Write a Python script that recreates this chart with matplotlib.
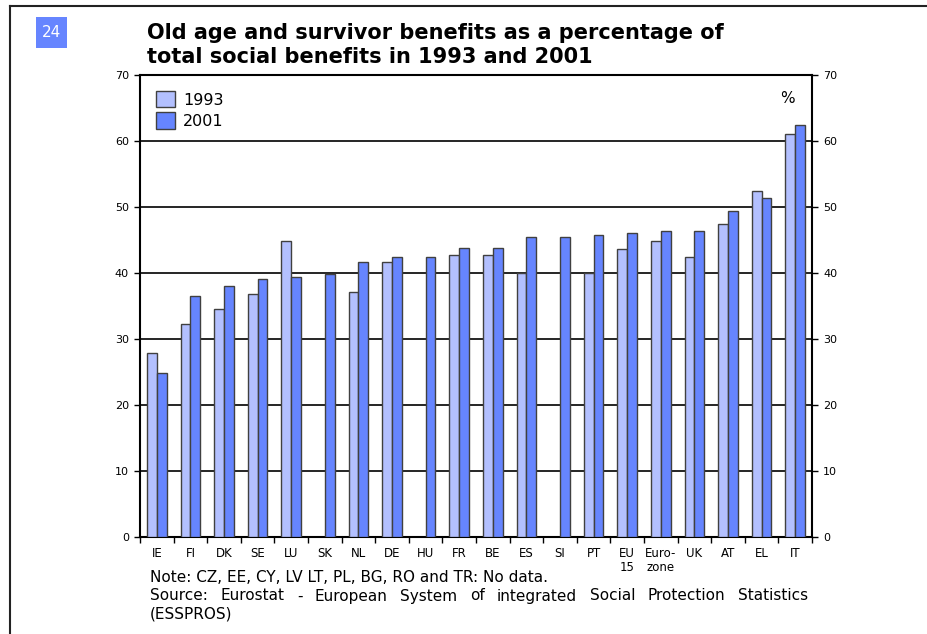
import matplotlib
matplotlib.use("Agg")
import matplotlib.pyplot as plt
import numpy as np
from matplotlib.patches import Rectangle
from matplotlib.lines import Line2D

countries = ["IE", "FI", "DK", "SE", "LU", "SK", "NL", "DE", "HU", "FR", "BE", "ES",
             "SI", "PT", "EU\n15", "Euro-\nzone", "UK", "AT", "EL", "IT"]
v1993 = [27.9, 32.3, 34.5, 36.8, 44.8, np.nan, 37.1, 41.7, np.nan, 42.7, 42.7, 40.0,
         np.nan, 40.0, 43.7, 44.8, 42.5, 47.5, 52.4, 61.1]
v2001 = [24.8, 36.5, 38.0, 39.1, 39.4, 39.8, 41.7, 42.4, 42.4, 43.8, 43.8, 45.4,
         45.4, 45.8, 46.1, 46.4, 46.4, 49.4, 51.4, 62.4]
series_labels = ["1993", "2001"]
yticks = list(range(0, 80, 10))

c1993 = "#b3c0ff"
c2001 = "#6685ff"
edge = "#404040"

W, H = 928, 634
fig = plt.figure(figsize=(W / 100, H / 100), dpi=100)
ax = fig.add_axes([140 / W, 1 - 537 / H, (812 - 140) / W, (537 - 75) / H])

x = np.arange(len(countries))
bw = 0.29
ax.bar(x - bw / 2, v1993, bw, color=c1993, edgecolor=edge, linewidth=1, label=series_labels[0], zorder=3)
ax.bar(x + bw / 2, v2001, bw, color=c2001, edgecolor=edge, linewidth=1, label=series_labels[1], zorder=3)

ax.set_xlim(-0.5, len(countries) - 0.5)
ax.set_ylim(0, 70)
ax.set_yticks(yticks)
ax.yaxis.grid(True, color="black", linewidth=1.2, zorder=0)
ax.tick_params(axis="y", which="both", left=True, right=True, labelleft=True, labelright=True,
               direction="out", length=4, labelsize=8, pad=4, width=1)
ax.set_xticks(x)
ax.set_xticklabels(countries, fontsize=8.5, linespacing=1.15, va="top")
ax.tick_params(axis="x", which="major", length=0, pad=7)
ax.set_xticks(np.arange(-0.5, len(countries), 1), minor=True)
ax.tick_params(axis="x", which="minor", length=4, direction="out", width=1)
for s in ax.spines.values():
    s.set_linewidth(1.5)

ax.legend(loc="upper left", frameon=False, fontsize=11.5, handlelength=1.2, handleheight=1.2,
          handletextpad=0.5, borderaxespad=0.6, labelspacing=0.3)
ax.text(0.963, 0.965, "%", transform=ax.transAxes, fontsize=11, va="top", ha="center")

# title and number badge
fig.text(147 / W, 1 - 45 / H, "Old age and survivor benefits as a percentage of\ntotal social benefits in 1993 and 2001",
         fontsize=15, fontweight="bold", va="center", ha="left", linespacing=1.25)
fig.patches.append(Rectangle((36 / W, 1 - 48 / H), 31 / W, 31 / H, transform=fig.transFigure,
                             facecolor="#6685ff", edgecolor="none"))
fig.text(51.5 / W, 1 - 32.5 / H, "24", color="white", fontsize=11, ha="center", va="center")

# page border (top and left)
fig.lines.append(Line2D([10 / W, 1], [1 - 6 / H, 1 - 6 / H], transform=fig.transFigure, color="#222222", linewidth=1.5))
fig.lines.append(Line2D([10 / W, 10 / W], [1 - 6 / H, 0], transform=fig.transFigure, color="#222222", linewidth=1.5))

# notes
fig.text(150 / W, 1 - 578 / H, "Note: CZ, EE, CY, LV LT, PL, BG, RO and TR: No data.", fontsize=11, va="center")
fig.text(150 / W, 1 - 614 / H, "(ESSPROS)", fontsize=11, va="center")

words = "Source: Eurostat - European System of integrated Social Protection Statistics".split()
fig.canvas.draw()
renderer = fig.canvas.get_renderer()
texts = [fig.text(0, 1 - 596 / H, w, fontsize=11, va="center") for w in words]
widths = [t.get_window_extent(renderer).width for t in texts]
x0, x1 = 150, 808
gap = (x1 - x0 - sum(widths)) / (len(words) - 1)
pos = x0
for t, w in zip(texts, widths):
    t.set_x(pos / W)
    pos += w + gap

fig.savefig("out.png", dpi=100)
